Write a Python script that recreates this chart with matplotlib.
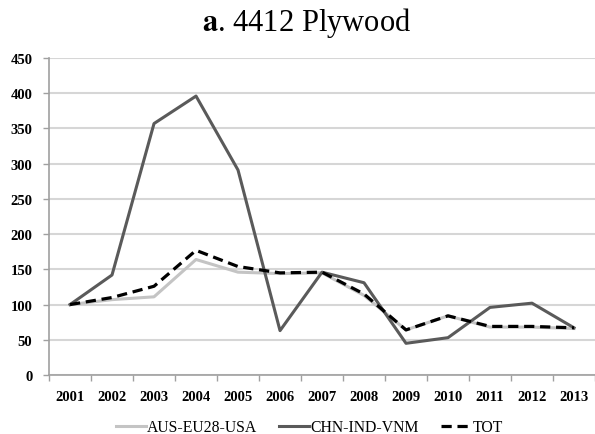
import matplotlib.pyplot as plt
import numpy as np

years = ["2001", "2002", "2003", "2004", "2005", "2006", "2007",
         "2008", "2009", "2010", "2011", "2012", "2013"]
aus_eu28_usa = [100, 107, 111, 164, 146, 144, 145, 113, 64, 84, 68, 68, 66]
chn_ind_vnm = [100, 142, 357, 396, 291, 63, 146, 131, 45, 53, 96, 102, 67]
tot = [100, 110, 126, 177, 154, 145, 146, 115, 64, 84, 69, 69, 67]

plt.rcParams["font.family"] = ["Liberation Serif", "DejaVu Serif"]

fig = plt.figure(figsize=(5.95, 4.35), dpi=100)
ax = fig.add_axes([0.0824, 0.1356, 0.9176, 0.7287])

x = np.arange(len(years))
ax.plot(x, aus_eu28_usa, color="#c4c4c4", lw=2.2, label="AUS-EU28-USA", zorder=3)
ax.plot(x, chn_ind_vnm, color="#5a5a5a", lw=2.2, label="CHN-IND-VNM", zorder=4)
ax.plot(x, tot, color="black", lw=2.3, ls=(0, (3.2, 1.8)), label="TOT", zorder=5)

ax.set_xlim(-0.5, len(years) - 0.5)
ax.set_ylim(0, 450)
ax.set_yticks(np.arange(0, 451, 50))
ax.set_xticks(x)
ax.set_xticklabels(years)
ax.set_xticks(np.arange(-0.5, len(years), 1), minor=True)
ax.tick_params(axis="x", which="major", length=0, pad=11, labelsize=10.5)
ax.tick_params(axis="x", which="minor", length=4, color="#a0a0a0", width=1)
ax.tick_params(axis="y", length=4, color="#a0a0a0", width=1, pad=8, labelsize=10.5)
for lab in ax.get_xticklabels() + ax.get_yticklabels():
    lab.set_fontweight("bold")

ax.grid(axis="y", color="#d6d6d6", lw=1.5)
ax.set_axisbelow(True)
for s in ("top", "right"):
    ax.spines[s].set_visible(False)
for s in ("left", "bottom"):
    ax.spines[s].set_color("#a0a0a0")
    ax.spines[s].set_linewidth(1.2)

fig.text(0.516, 0.947, r"$\mathbf{a}$. 4412 Plywood", ha="center", va="center",
         fontsize=22, math_fontfamily="stix")
fig.legend(loc="center", bbox_to_anchor=(0.52, 0.015), ncol=3, frameon=False,
           fontsize=11.3, handlelength=1.9, handletextpad=0.1, columnspacing=1.4)

fig.savefig("out.png", dpi=100)
